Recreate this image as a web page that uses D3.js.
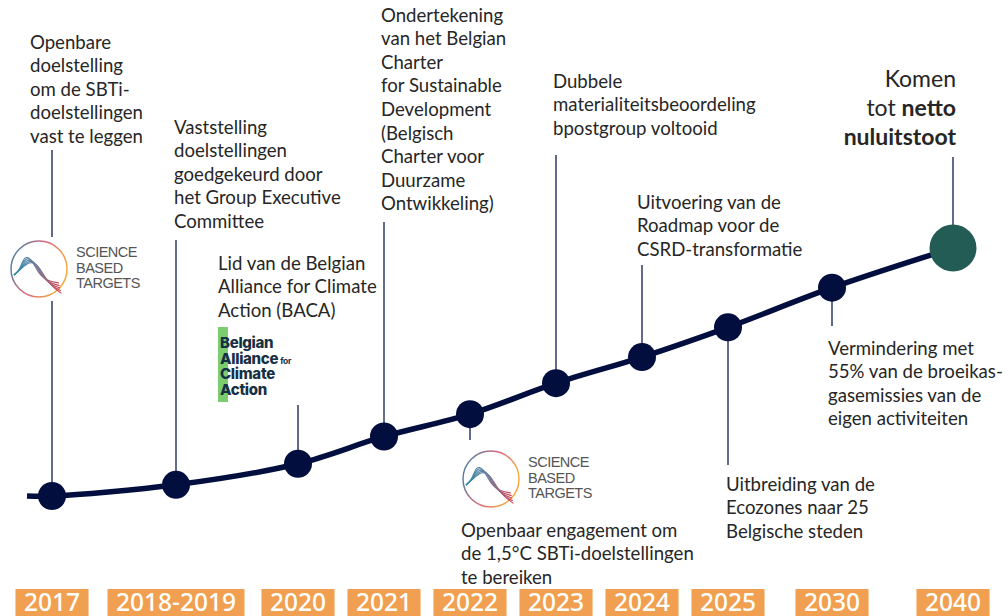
<!DOCTYPE html>
<html>
<head>
<meta charset="utf-8">
<script src="https://cdn.jsdelivr.net/npm/d3@7"></script>
<style>
  body { margin: 0; background: #fff; }
  svg { display: block; }
</style>
</head>
<body>
<svg id="chart" width="1008" height="616"></svg>
<script>
// timeline periods and how far along the path each milestone sits (0 = start, 100 = net zero)
const periods = ['2017', '2018-2019', '2020', '2021', '2022', '2023', '2024', '2025', '2030', '2040']
const progress = [0, 4.5, 13, 24, 33, 45.5, 56, 68, 84, 100]

const noteTexts = {
  '2017': ['Openbare', 'doelstelling', 'om de SBTi-', 'doelstellingen', 'vast te leggen'],
  '2018-2019': ['Vaststelling', 'doelstellingen', 'goedgekeurd door', 'het Group Executive', 'Committee'],
  '2020': ['Lid van de Belgian', 'Alliance for Climate', 'Action (BACA)'],
  '2021': ['Ondertekening', 'van het Belgian', 'Charter', 'for Sustainable', 'Development', '(Belgisch', 'Charter voor', 'Duurzame', 'Ontwikkeling)'],
  '2022': ['Openbaar engagement om', 'de 1,5°C SBTi-doelstellingen', 'te bereiken'],
  '2023': ['Dubbele', 'materialiteitsbeoordeling', 'bpostgroup voltooid'],
  '2024': ['Uitvoering van de', 'Roadmap voor de', 'CSRD-transformatie'],
  '2025': ['Uitbreiding van de', 'Ecozones naar 25', 'Belgische steden'],
  '2030': ['Vermindering met', '55% van de broeikas-', 'gasemissies van de', 'eigen activiteiten'],
  '2040': ['Komen', 'tot **netto**', '**nuluitstoot**']
}

const sbtiWords = ['SCIENCE', 'BASED', 'TARGETS']
const bacaWords = ['Belgian', 'Alliance', 'Climate', 'Action']

// layout only: where each note sits and where its connector starts/ends
const layout = {
  '2017': { x: 30, y: 42, from: 150 },
  '2018-2019': { x: 174, y: 127, from: 240 },
  '2020': { x: 218, y: 263, from: 405 },
  '2021': { x: 381, y: 15, from: 222 },
  '2022': { x: 461, y: 530, from: 440 },
  '2023': { x: 553, y: 81, from: 155 },
  '2024': { x: 637, y: 202, from: 265 },
  '2025': { x: 726, y: 484, from: 465 },
  '2030': { x: 828, y: 348, from: 326 },
  '2040': { x: 956, y: 79, from: 157, anchor: 'end', size: 23, lh: 29 }
}

const font = "'Source Sans Pro', Lato, 'Noto Sans', sans-serif"
const navy = '#020e3e'
const svg = d3.select('#chart')

const x = d3.scaleOrdinal(periods, [52, 176, 298, 384, 470, 556, 642, 728, 832, 953])
const y = d3.scaleLinear([0, 100], [496, 248])

const points = periods.map((p, i) => ({ period: p, value: progress[i], px: x(p), py: y(progress[i]) }))

const defs = svg.append('defs')
const ring = defs.append('linearGradient').attr('id', 'ring')
  .attr('x1', 0).attr('y1', 0).attr('x2', 1).attr('y2', 0.4)
ring.append('stop').attr('offset', 0).attr('stop-color', '#2f86a8')
ring.append('stop').attr('offset', 0.55).attr('stop-color', '#d9687c')
ring.append('stop').attr('offset', 1).attr('stop-color', '#f3aa40')
const wave = defs.append('linearGradient').attr('id', 'wave')
  .attr('x1', 0).attr('y1', 0).attr('x2', 1).attr('y2', 0)
wave.append('stop').attr('offset', 0).attr('stop-color', '#2a8aa6')
wave.append('stop').attr('offset', 0.45).attr('stop-color', '#6a7fa0')
wave.append('stop').attr('offset', 1).attr('stop-color', '#d23d4f')

// connectors
svg.append('g')
  .selectAll('line')
  .data(points)
  .join('line')
  .attr('x1', d => d.px)
  .attr('x2', d => d.px)
  .attr('y1', d => layout[d.period].from)
  .attr('y2', d => d.py)
  .attr('stroke', '#3c4670')
  .attr('stroke-width', 1.6)

// the path to net zero
const track = [{ px: points[0].px - 25, py: points[0].py }].concat(points)
svg.append('path')
  .datum(track)
  .attr('d', d3.line().x(d => d.px).y(d => d.py).curve(d3.curveCatmullRom.alpha(0.5)))
  .attr('fill', 'none')
  .attr('stroke', navy)
  .attr('stroke-width', 5.5)

svg.append('g')
  .selectAll('circle')
  .data(points)
  .join('circle')
  .attr('cx', d => d.px)
  .attr('cy', d => d.py)
  .attr('r', (d, i) => i === points.length - 1 ? 23.5 : 14)
  .attr('fill', (d, i) => i === points.length - 1 ? '#235b55' : navy)

// logos
function sbtiLogo (cx, cy) {
  const g = svg.append('g').attr('transform', `translate(${cx},${cy})`)
  g.append('rect').attr('x', -31).attr('y', -32).attr('width', 134).attr('height', 64).attr('fill', '#fff')
  g.append('circle').attr('r', 28).attr('fill', 'none').attr('stroke', 'url(#ring)').attr('stroke-width', 1.5)
  const waveLine = d3.line().curve(d3.curveBasis)
  d3.range(5).forEach(i => {
    g.append('path')
      .attr('d', waveLine([
        [-25, 6], [-19, 1], [-15 + i * 1.3, -13 + i * 1.3], [-8 + i * 1.6, -11 + i * 1.4],
        [-1 + i * 1.8, 4 + i * 1.3], [8 + i * 1.5, 12 + i * 1.6], [20 + i * 0.6, 14 + i * 2.6]
      ]))
      .attr('fill', 'none')
      .attr('stroke', 'url(#wave)')
      .attr('stroke-width', 1.1)
  })
  const label = g.append('text')
    .attr('font-family', "'Liberation Sans', Arial, sans-serif")
    .attr('font-size', 14.5)
    .attr('letter-spacing', -0.5)
    .attr('fill', '#555')
  label.selectAll('tspan')
    .data(sbtiWords)
    .join('tspan')
    .attr('x', 37)
    .attr('y', (d, i) => -12 + i * 15.5)
    .text(d => d)
}
sbtiLogo(39, 269)
sbtiLogo(491, 479)

const baca = svg.append('g')
baca.append('rect').attr('x', 218).attr('y', 327).attr('width', 10).attr('height', 75).attr('fill', '#7bcd70')
const bacaText = baca.append('text')
  .attr('font-family', "Inter, 'Noto Sans', sans-serif")
  .attr('font-weight', 800)
  .attr('font-size', 15)
  .attr('letter-spacing', -0.3)
  .attr('fill', '#173044')
bacaWords.forEach((w, i) => {
  const row = bacaText.append('tspan').attr('x', 220).attr('y', 348 + i * 15.5).text(w)
  if (w === 'Alliance') {
    bacaText.append('tspan').attr('font-size', 8.5).attr('font-weight', 700).attr('dx', 2).text('for')
  }
})

// notes
const notes = svg.append('g')
  .selectAll('text')
  .data(periods)
  .join('text')
  .attr('font-family', font)
  .attr('font-size', p => layout[p].size || 18.6)
  .attr('text-anchor', p => layout[p].anchor || 'start')
  .attr('fill', '#262626')

notes.each(function (p) {
  const L = layout[p]
  const lh = L.lh || 23.6
  const t = d3.select(this)
  noteTexts[p].forEach((line, i) => {
    const row = t.append('tspan').attr('x', L.x).attr('y', L.y + i * lh).attr('dy', '0.35em')
    line.split('**').forEach((part, j) => {
      if (!part) return
      row.append('tspan').attr('font-weight', j % 2 ? 700 : 400).text(part)
    })
  })
})

// period badges
const badges = svg.append('g')
  .selectAll('g')
  .data(periods)
  .join('g')

badges.append('text')
  .attr('x', p => x(p))
  .attr('y', 602)
  .attr('dy', '0.36em')
  .attr('text-anchor', 'middle')
  .attr('font-family', "'Noto Sans', sans-serif")
  .attr('font-weight', 500)
  .attr('font-size', 24.5)
  .attr('fill', '#fff')
  .text(p => p)

badges.each(function () {
  const g = d3.select(this)
  const box = g.select('text').node().getBBox()
  g.insert('rect', 'text')
    .attr('x', box.x - 8.5)
    .attr('y', 589)
    .attr('width', box.width + 17)
    .attr('height', 30)
    .attr('fill', '#f0a050')
})
</script>
</body>
</html>
